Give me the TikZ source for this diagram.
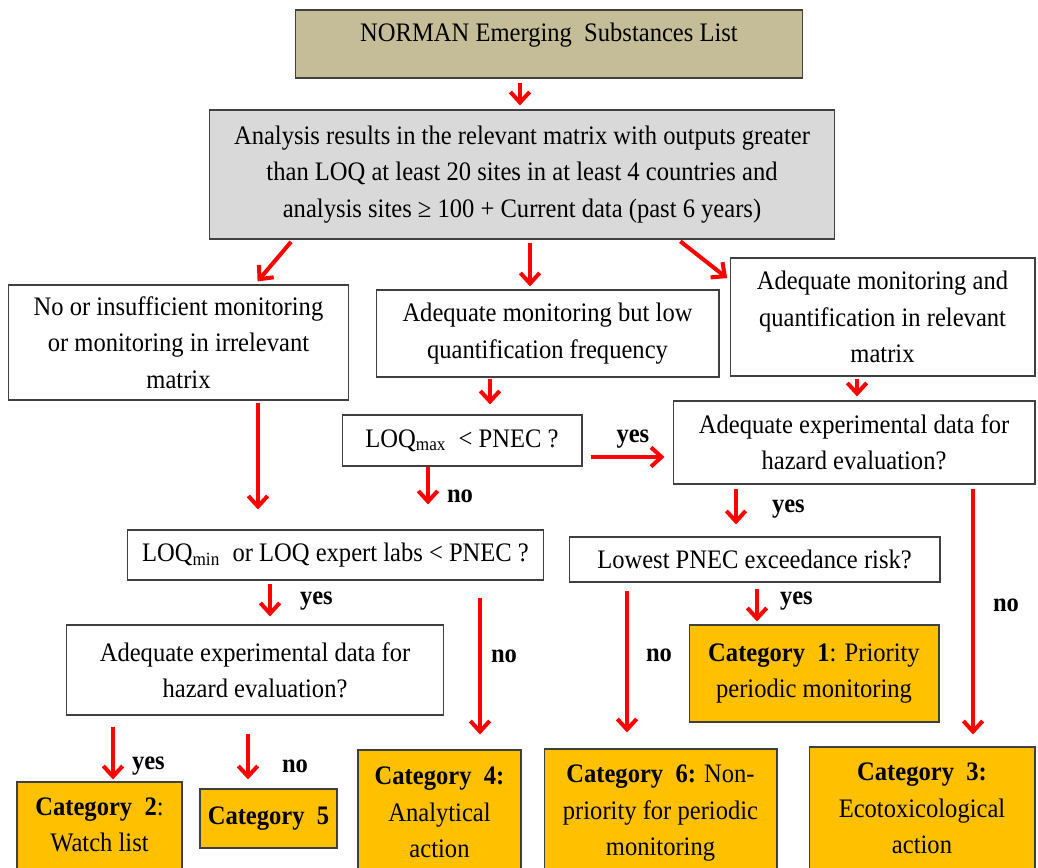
\documentclass[tikz,border=0pt]{standalone}
\usepackage{fontspec}
\setmainfont[FakeStretch=0.92]{Liberation Serif}
\usepackage{tikz}
\usetikzlibrary{arrows.meta, positioning}
\definecolor{listtan}{HTML}{C4BD97}
\definecolor{analysisgray}{HTML}{D9D9D9}
\definecolor{catorange}{HTML}{FFC000}

\begin{document}
\begin{tikzpicture}[
		x=0.02cm, y=-0.02cm, % one unit = one pixel of the layout
		every node/.style={
				align=center,
				font=\fontsize{15.2}{20.7}\selectfont
			},
		box/.style={draw=black!75, line width=0.6pt, fill=white, inner sep=2pt},
		catbox/.style={box, fill=catorange},
		arr/.style={red, line width=2.3pt, -{Straight Barb[length=6pt, width=11pt]}},
		lbl/.style={text=black, font=\fontsize{15.2}{17}\selectfont\bfseries, inner sep=0pt}
	]
	\useasboundingbox (0,0) rectangle (1038,868);
	\clip (0,0) rectangle (1038,868);

	% top of the chart
	\node[box, fill=listtan, minimum width=10.16cm, minimum height=1.36cm,
		text height=0.4cm, text depth=0.5cm] (list) at (549,44)
	{NORMAN Emerging\ \ Substances List};
	\node[box, fill=analysisgray, minimum width=12.52cm, minimum height=2.58cm] (analysis) at (522,174.5)
	{Analysis results in the relevant matrix with outputs greater\\
		than LOQ at least 20 sites in at least 4 countries and\\
		analysis sites ≥ 100 + Current data (past 6 years)};

	% three branches
	\node[box, minimum width=6.82cm, minimum height=2.3cm] (insufficient) at (178.5,342.5)
	{No or insufficient monitoring\\ or monitoring in irrelevant\\ matrix};
	\node[box, minimum width=6.86cm, minimum height=1.74cm] (lowfreq) at (547.5,333.5)
	{Adequate monitoring but low\\ quantification frequency};
	\node[box, minimum width=6.1cm, minimum height=2.36cm] (adequate) at (882.5,317)
	{Adequate monitoring and\\ quantification in relevant\\ matrix};

	% questions
	\node[box, minimum width=4.8cm, minimum height=1.02cm] (loqmax) at (462,440.5)
	{LOQ\textsubscript{max}\ \ < PNEC ?};
	\node[box, minimum width=7.24cm, minimum height=1.66cm] (hazardR) at (854,442.5)
	{Adequate experimental data for\\ hazard evaluation?};
	\node[box, minimum width=8.34cm, minimum height=1.0cm] (loqmin) at (335.5,555)
	{LOQ\textsubscript{min}\ \ or LOQ expert labs < PNEC ?};
	\node[box, minimum width=7.42cm, minimum height=0.9cm] (exceed) at (754.5,559.5)
	{Lowest PNEC exceedance risk?};
	\node[box, minimum width=7.56cm, minimum height=1.8cm] (hazardL) at (255,670)
	{Adequate experimental data for\\ hazard evaluation?};

	% categories
	\node[catbox, minimum width=5.0cm, minimum height=1.94cm] (cat1) at (814,673.5)
	{\textbf{Category\ \ 1}: Priority\\ periodic monitoring};
	\node[catbox, minimum width=3.3cm, minimum height=2.64cm] (cat2) at (99.5,848)
	{\textbf{Category\ \ 2}:\\ Watch list\\ \strut};
	\node[catbox, minimum width=2.74cm, minimum height=1.18cm] (cat5) at (268.5,818.5)
	{\textbf{Category\ \ 5}};
	\node[catbox, minimum width=3.26cm, minimum height=3.44cm] (cat4) at (439.5,836)
	{\textbf{Category\ \ 4:}\\ Analytical\\ action\\ \strut};
	\node[catbox, minimum width=4.66cm, minimum height=3.4cm] (cat6) at (660.5,834)
	{\textbf{Category\ \ 6:} Non-\\ priority for periodic\\ monitoring\\ \strut};
	\node[catbox, minimum width=4.52cm, minimum height=3.4cm] (cat3) at (922,832)
	{\textbf{Category\ \ 3:}\\ Ecotoxicological\\ action\\ \strut};

	% arrows
	\draw[arr, shorten <=0.08cm, shorten >=0.08cm] (list.south -| 520,0) -- (analysis.north -| 520,0);
	\draw[arr, shorten <=0.06cm, shorten >=0.08cm] (analysis.south -| 293,0) -- (insufficient.north -| 255,0);
	\draw[arr, shorten <=0.06cm, shorten >=0.06cm] (analysis.south -| 530,0) -- (lowfreq.north -| 530,0);
	\draw[arr, shorten <=0.06cm, shorten >=0.06cm] (analysis.south -| 678,0) -- (adequate.west |- 0,280);

	\draw[arr, shorten <=0.04cm, shorten >=0.4cm] (insufficient.south -| 258,0) -- (loqmin.north -| 258,0);
	\draw[arr, shorten <=0.02cm, shorten >=0.2cm] (lowfreq.south -| 490,0) -- (loqmax.north -| 490,0);
	\draw[arr, shorten <=0.04cm, shorten >=0.08cm] (adequate.south -| 857,0) -- (hazardR.north -| 857,0);

	\draw[arr, shorten <=0.16cm, shorten >=0.16cm] (loqmax.east |- 0,457) -- (hazardR.west |- 0,457)
	node[lbl, pos=0.56, above=0.14cm] {yes};
	\draw[arr, shorten >=0.5cm] (loqmax.south -| 428,0) -- (loqmin.north -| 428,0)
	node[lbl, pos=0.47, right=0.34cm] {no};
	\draw[arr, shorten <=0.08cm, shorten >=0.24cm] (hazardR.south -| 736,0) -- (exceed.north -| 736,0)
	node[lbl, pos=0.47, right=0.68cm] {yes};
	\draw[arr, shorten <=0.08cm, shorten >=0.24cm] (hazardR.south -| 973,0) -- (cat3.north -| 973,0)
	node[lbl, pos=0.46, right=0.36cm] {no};
	\draw[arr, shorten <=0.12cm, shorten >=0.06cm] (exceed.south -| 757,0) -- (cat1.north -| 757,0)
	node[lbl, pos=0.44, right=0.42cm] {yes};
	\draw[arr, shorten <=0.16cm, shorten >=0.32cm] (exceed.south -| 627,0) -- (cat6.north -| 627,0)
	node[lbl, pos=0.44, right=0.34cm] {no};
	\draw[arr, shorten <=0.06cm, shorten >=0.16cm] (loqmin.south -| 270,0) -- (hazardL.north -| 270,0)
	node[lbl, pos=0.47, right=0.56cm] {yes};
	\draw[arr, shorten <=0.34cm, shorten >=0.3cm] (loqmin.south -| 480,0) -- (cat4.north -| 480,0)
	node[lbl, pos=0.45, right=0.18cm] {no};
	\draw[arr, shorten <=0.22cm, shorten >=0.04cm] (hazardL.south -| 113,0) -- (cat2.north -| 113,0)
	node[lbl, pos=0.76, right=0.34cm] {yes};
	\draw[arr, shorten <=0.36cm, shorten >=0.18cm] (hazardL.south -| 248,0) -- (cat5.north -| 248,0)
	node[lbl, pos=0.69, right=0.64cm] {no};
\end{tikzpicture}
\end{document}
